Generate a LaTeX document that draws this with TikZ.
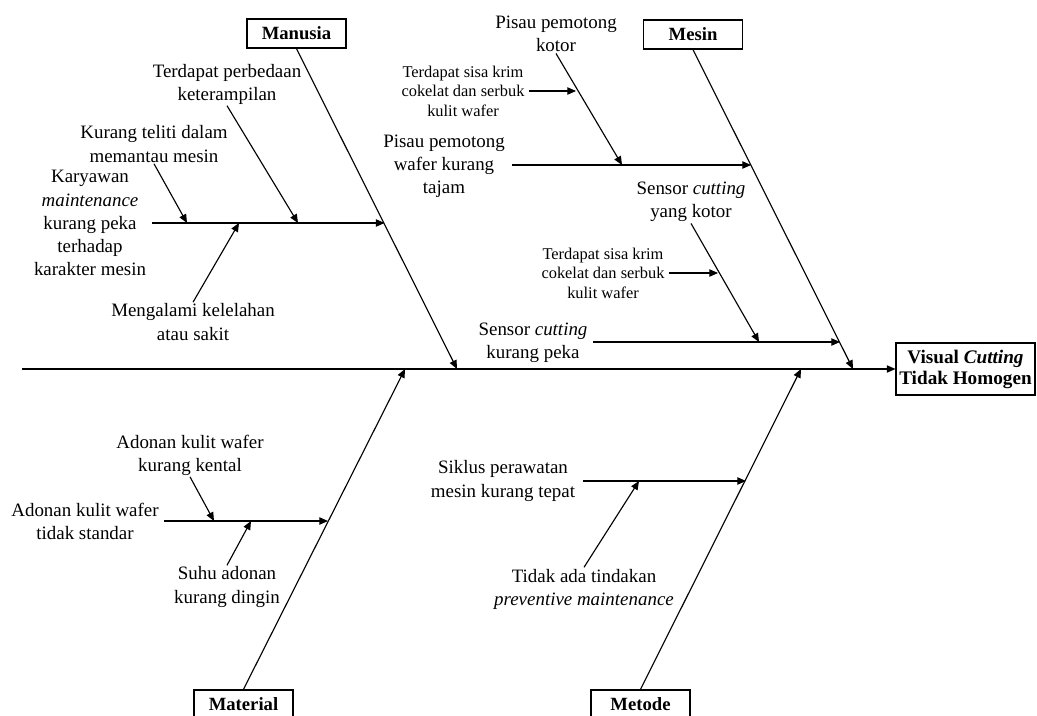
\documentclass[tikz,border=0pt]{standalone}
\usepackage{fontspec}
\setmainfont{Liberation Serif}
\usetikzlibrary{arrows.meta,positioning}
\tikzset{
  catbox/.style={draw, line width=1.1pt, minimum width=74.25pt, minimum height=21.75pt,
                 inner sep=1pt, font=\fontsize{14}{16}\selectfont\bfseries},
  effect/.style={draw, line width=1.1pt, minimum width=104pt, minimum height=39pt,
                 align=center, inner sep=1pt, font=\fontsize{14.4}{15.8}\selectfont\bfseries},
  cause/.style={align=center, inner sep=1pt, font=\fontsize{14.2}{17.3}\selectfont},
  subcause/.style={align=center, inner sep=3pt, font=\fontsize{12.3}{14.6}\selectfont},
  bone/.style={-{Triangle[length=6.5pt,width=5.5pt]}, line width=0.85pt}
}
\begin{document}
\begin{tikzpicture}[x=0.75pt, y=-0.75pt]
  \useasboundingbox (0,0) rectangle (1037,716);
  \node[effect] (vc) at (965.5,369) {Visual \textit{Cutting}\\Tidak Homogen};
  \node[catbox] (man) at (296.5,33.5) {Manusia};
  \node[catbox] (mes) at (693,34.5) {Mesin};
  \node[catbox] (mat) at (243.5,704.5) {Material};
  \node[catbox] (met) at (640.5,704.5) {Metode};

  \coordinate (tail) at (22,369);
  \coordinate (jman) at (457,369);
  \coordinate (jmes) at (853,369);
  \coordinate (jmat) at (405,369);
  \coordinate (jmet) at (801,369);
  \draw[bone] (tail) -- (vc.west);
  \draw[bone] (man.south) -- (jman);
  \draw[bone] (mes.south) -- (jmes);
  \draw[bone] (mat.north) -- (jmat);
  \draw[bone] (met.north) -- (jmet);

  % manusia
  \node[cause] (kr) at (90,223) {Karyawan\\\textit{maintenance}\\kurang peka\\terhadap\\karakter mesin};
  \node[cause] (kt) at (154,144) {Kurang teliti dalam\\memantau mesin};
  \node[cause] (tp) at (227,84) {Terdapat perbedaan\\keterampilan};
  \node[cause] (mk) at (193,322) {Mengalami kelelahan\\atau sakit};
  \coordinate (kr0) at (152,223);
  \coordinate (kr1) at (384.5,223);
  \coordinate (kt1) at (187,223);
  \coordinate (tp1) at (298,223);
  \coordinate (mk1) at (239,223);
  \draw[bone] (kr0) -- (kr1);
  \draw[bone] (kt.south) -- (kt1);
  \draw[bone] (tp.south) -- (tp1);
  \draw[bone] (mk.north) -- (mk1);

  % mesin
  \node[cause] (pw) at (444,166) {Pisau pemotong\\wafer kurang\\tajam};
  \node[cause] (pk) at (556,34) {Pisau pemotong\\kotor};
  \node[subcause] (sa) at (463,91) {Terdapat sisa krim\\cokelat dan serbuk\\kulit wafer};
  \coordinate (pw0) at (512,165);
  \coordinate (pw1) at (751,165);
  \coordinate (pk1) at (622,165);
  \coordinate (sa1) at (576,91);
  \draw[bone] (pw0) -- (pw1);
  \draw[bone] (pk.south) -- (pk1);
  \draw[bone] (sa.east) -- (sa1);

  \node[cause] (sk) at (533,343) {Sensor \textit{cutting}\\kurang peka};
  \node[cause] (sy) at (691,202) {Sensor \textit{cutting}\\yang kotor};
  \node[subcause] (sb) at (603,273) {Terdapat sisa krim\\cokelat dan serbuk\\kulit wafer};
  \coordinate (sk0) at (593,342);
  \coordinate (sk1) at (840,342);
  \coordinate (sy1) at (759,342);
  \coordinate (sb1) at (718,273);
  \draw[bone] (sk0) -- (sk1);
  \draw[bone] (sy.south) -- (sy1);
  \draw[bone] (sb.east) -- (sb1);

  % material
  \node[cause] (ats) at (85,521) {Adonan kulit wafer\\tidak standar};
  \node[cause] (akk) at (190,455) {Adonan kulit wafer\\kurang kental};
  \node[cause] (sad) at (227,587) {Suhu adonan\\kurang dingin};
  \coordinate (ats0) at (164,521);
  \coordinate (ats1) at (328,521);
  \coordinate (akk1) at (214,521);
  \coordinate (sad1) at (251,521);
  \draw[bone] (ats0) -- (ats1);
  \draw[bone] (akk.south) -- (akk1);
  \draw[bone] (sad.north) -- (sad1);

  % metode
  \node[cause] (sp) at (503,481) {Siklus perawatan\\mesin kurang tepat};
  \node[cause] (ta) at (584,589) {Tidak ada tindakan\\\textit{preventive maintenance}};
  \coordinate (sp0) at (583,481);
  \coordinate (sp1) at (746,481);
  \coordinate (ta1) at (639,481);
  \draw[bone] (sp0) -- (sp1);
  \draw[bone] (ta.north) -- (ta1);
\end{tikzpicture}
\end{document}
